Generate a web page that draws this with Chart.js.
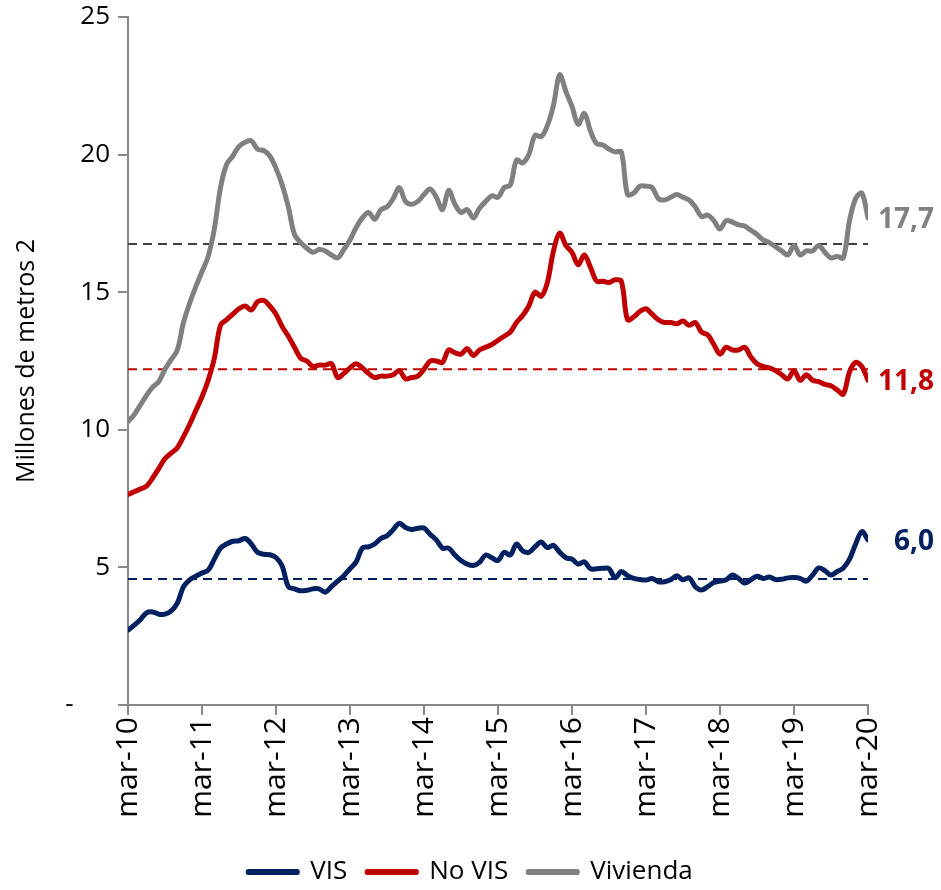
<!DOCTYPE html>
<html lang="es">
<head>
<meta charset="utf-8">
<title>Millones de metros 2</title>
<script src="https://cdn.jsdelivr.net/npm/chart.js@4.4.1/dist/chart.umd.min.js"></script>
<style>
  html, body { margin: 0; padding: 0; background: #fff; }
  #wrap { width: 941px; height: 890px; }
</style>
</head>
<body>
<div id="wrap"><canvas id="chart" width="941" height="890"></canvas></div>
<script>
// monthly series, mar-10 .. mar-20 (121 months)
const xTickLabels = ['mar-10', 'mar-11', 'mar-12', 'mar-13', 'mar-14', 'mar-15', 'mar-16', 'mar-17', 'mar-18', 'mar-19', 'mar-20'];
const yTickLabels = ['-\u2007\u2007 ', '5', '10', '15', '20', '25'];
const seriesNames = ['VIS', 'No VIS', 'Vivienda'];

const vis = [
    2.72, 2.9, 3.1, 3.35, 3.38, 3.3, 3.3, 3.42, 3.7, 4.3,
    4.55, 4.68, 4.8, 4.9, 5.3, 5.7, 5.85, 5.95, 5.97, 6.05,
    5.85, 5.55, 5.48, 5.46, 5.36, 5.05, 4.3, 4.22, 4.15, 4.17,
    4.22, 4.22, 4.1, 4.3, 4.5, 4.7, 4.95, 5.2, 5.7, 5.75,
    5.85, 6.05, 6.15, 6.37, 6.6, 6.45, 6.38, 6.42, 6.43, 6.2,
    6.0, 5.7, 5.7, 5.45, 5.25, 5.12, 5.07, 5.18, 5.45, 5.35,
    5.25, 5.55, 5.45, 5.85, 5.6, 5.55, 5.75, 5.92, 5.72, 5.8,
    5.55, 5.35, 5.3, 5.12, 5.2, 4.95, 4.95, 4.97, 4.95, 4.62,
    4.85, 4.7, 4.6, 4.56, 4.54, 4.6, 4.48, 4.48, 4.55, 4.7,
    4.55, 4.62, 4.3, 4.18, 4.3, 4.45, 4.5, 4.55, 4.72, 4.6,
    4.43, 4.55, 4.68, 4.6, 4.65, 4.56, 4.57, 4.62, 4.63, 4.6,
    4.5, 4.72, 4.98, 4.88, 4.72, 4.85, 4.98, 5.3, 5.85, 6.3, 6.0
];

const noVis = [
    7.65, 7.75, 7.85, 7.95, 8.25, 8.6, 8.95, 9.15, 9.35, 9.75,
    10.2, 10.7, 11.2, 11.8, 12.6, 13.8, 14.0, 14.2, 14.4, 14.5,
    14.35, 14.65, 14.7, 14.5, 14.2, 13.75, 13.4, 13.0, 12.6, 12.5,
    12.3, 12.35, 12.35, 12.4, 11.9, 12.05, 12.25, 12.4, 12.25, 12.05,
    11.9, 11.95, 11.95, 12.0, 12.15, 11.85, 11.9, 11.95, 12.2, 12.5,
    12.5, 12.45, 12.9, 12.8, 12.75, 12.95, 12.7, 12.9, 13.0, 13.1,
    13.25, 13.4, 13.55, 13.9, 14.15, 14.5, 15.0, 14.85, 15.35, 16.5,
    17.15, 16.7, 16.45, 16.0, 16.35, 15.9, 15.4, 15.4, 15.35, 15.45,
    15.4, 14.0, 14.1, 14.3, 14.4, 14.2, 14.0, 13.9, 13.9, 13.85,
    13.95, 13.8, 13.9, 13.55, 13.45, 13.1, 12.75, 13.0, 12.9, 12.9,
    13.0, 12.65, 12.4, 12.3, 12.25, 12.15, 12.0, 11.85, 12.15, 11.8,
    12.0, 11.8, 11.75, 11.65, 11.6, 11.45, 11.3, 12.1, 12.45, 12.3, 11.8
];

const vivienda = [
    10.3, 10.55, 10.9, 11.25, 11.55, 11.75, 12.2, 12.55, 12.9, 13.9,
    14.6, 15.2, 15.75, 16.3, 17.3, 18.8, 19.65, 19.95, 20.3, 20.45,
    20.5, 20.2, 20.15, 19.95, 19.5, 18.9, 18.1, 17.1, 16.8, 16.6,
    16.45, 16.55, 16.5, 16.35, 16.25, 16.55, 16.9, 17.35, 17.7, 17.9,
    17.65, 18.0, 18.1, 18.4, 18.8, 18.3, 18.2, 18.3, 18.55, 18.75,
    18.45, 18.0, 18.7, 18.2, 17.9, 18.0, 17.7, 18.05, 18.3, 18.5,
    18.45, 18.8, 18.9, 19.8, 19.7, 20.0, 20.7, 20.65, 21.05, 21.8,
    22.9, 22.3, 21.75, 21.1, 21.5, 20.85, 20.4, 20.35, 20.2, 20.1,
    20.1, 18.55, 18.6, 18.85, 18.85, 18.8, 18.4, 18.35, 18.45, 18.55,
    18.45, 18.35, 18.1, 17.75, 17.8, 17.6, 17.3, 17.6, 17.55, 17.45,
    17.4, 17.25, 17.1, 16.9, 16.8, 16.65, 16.5, 16.35, 16.7, 16.35,
    16.5, 16.5, 16.7, 16.45, 16.25, 16.3, 16.25, 17.6, 18.4, 18.6, 17.7
];

// period averages (dashed lines) and end-of-series labels
const averages = [4.58, 12.2, 16.75];
const endLabels = ['6,0', '11,8', '17,7'];

const lineColors = ['#002060', '#C00000', '#808080'];
const dashColors = ['#002060', '#C00000', '#404040'];
const axisColor = '#898989';
const fontFamily = '"Open Sans", "DejaVu Sans", sans-serif';

const allSeries = [vis, noVis, vivienda];
const lastIndex = vis.length - 1;

function toPoints(values) {
    return values.map((v, i) => ({ x: i, y: v }));
}

const lineSets = allSeries.map((values, i) => ({
    label: seriesNames[i],
    data: toPoints(values),
    borderColor: lineColors[i],
    backgroundColor: lineColors[i],
    borderWidth: 5,
    borderCapStyle: 'round',
    borderJoinStyle: 'round',
    pointRadius: 0,
    tension: 0.35
}));

const avgSets = averages.map((avg, i) => ({
    label: seriesNames[i] + ' promedio',
    data: [{ x: 0, y: avg }, { x: lastIndex, y: avg }],
    borderColor: dashColors[i],
    borderWidth: 2,
    borderDash: [9, 6],
    pointRadius: 0,
    tension: 0
}));

const endLabelPlugin = {
    id: 'endLabels',
    afterDatasetsDraw(chart) {
        const ctx = chart.ctx;
        ctx.save();
        ctx.font = 'bold 28px ' + fontFamily;
        ctx.textAlign = 'right';
        ctx.textBaseline = 'middle';
        endLabels.forEach((text, i) => {
            const pts = chart.getDatasetMeta(i).data;
            const last = pts[pts.length - 1];
            ctx.fillStyle = lineColors[i];
            ctx.fillText(text, last.x + 66, last.y + 2);
        });
        ctx.restore();
    }
};

new Chart(document.getElementById('chart'), {
    type: 'line',
    data: { datasets: [...lineSets, ...avgSets] },
    options: {
        responsive: false,
        animation: false,
        devicePixelRatio: 1,
        layout: { padding: { left: 0, right: 0, top: 0, bottom: -5 } },
        plugins: {
            legend: {
                position: 'bottom',
                labels: {
                    filter: (item) => item.datasetIndex < 3,
                    boxWidth: 49,
                    boxHeight: 1,
                    padding: 20,
                    color: '#000',
                    font: { family: fontFamily, size: 26 }
                }
            },
            tooltip: { enabled: false }
        },
        scales: {
            x: {
                type: 'linear',
                min: 0,
                max: lastIndex,
                border: { color: axisColor, width: 2 },
                grid: { drawOnChartArea: false, tickLength: 10, color: axisColor, lineWidth: 2 },
                ticks: {
                    stepSize: 12,
                    autoSkip: false,
                    minRotation: 90,
                    maxRotation: 90,
                    padding: 2,
                    color: '#000',
                    font: { family: fontFamily, size: 30 },
                    callback: (v) => xTickLabels[v / 12]
                },
                afterFit: (scale) => {
                    scale.height = 134;
                    scale.paddingRight = 73;
                }
            },
            y: {
                min: 0,
                max: 25,
                border: { color: axisColor, width: 2 },
                grid: { drawOnChartArea: false, tickLength: 10, color: axisColor, lineWidth: 2 },
                ticks: {
                    stepSize: 5,
                    padding: 8,
                    color: '#000',
                    font: { family: fontFamily, size: 26 },
                    callback: (v, i) => yTickLabels[i]
                },
                title: {
                    display: true,
                    text: 'Millones de metros 2',
                    color: '#000',
                    font: { family: fontFamily, size: 25 },
                    padding: { top: 12, bottom: 0 }
                },
                afterFit: (scale) => {
                    scale.width = 128;
                    scale.paddingTop = 17;
                }
            }
        }
    },
    plugins: [endLabelPlugin]
});
</script>
</body>
</html>
